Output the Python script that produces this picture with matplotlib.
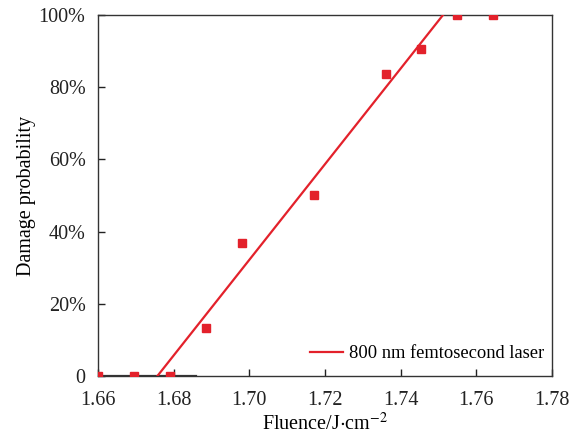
import numpy as np
import matplotlib
matplotlib.use("Agg")
import matplotlib.pyplot as plt
from matplotlib.ticker import FuncFormatter

plt.rcParams["font.family"] = ["Liberation Serif", "DejaVu Serif"]
plt.rcParams["mathtext.fontset"] = "stix"

# measured damage probability vs fluence
fluence = [1.660, 1.6695, 1.679, 1.6885, 1.698, 1.717, 1.736, 1.7455, 1.755, 1.7645]
prob = [0, 0, 0, 13.3, 36.8, 50.1, 83.7, 90.6, 100, 100]

# linear fit: threshold and saturation fluence
fit_x = [1.6757, 1.7512]
fit_y = [0, 100]
zero_x = [1.660, 1.6858]

red = "#e3212b"

fig = plt.figure(figsize=(5.81, 4.36), dpi=100)
ax = fig.add_axes([0.1687, 0.1376, 0.7813, 0.828])

ax.plot(zero_x, [0, 0], color="#333333", lw=1.6, zorder=2)
ax.plot(fit_x, fit_y, color=red, lw=1.6, label="800 nm femtosecond laser", zorder=3)
ax.plot(fluence, prob, "s", color=red, ms=6, zorder=4)

ax.set_xlim(1.66, 1.78)
ax.set_ylim(0, 100)
ax.set_xticks(np.arange(1.66, 1.781, 0.02))
ax.set_yticks([0, 20, 40, 60, 80, 100])
ax.yaxis.set_major_formatter(FuncFormatter(lambda v, p: "0" if v == 0 else f"{v:.0f}%"))
ax.xaxis.set_major_formatter(FuncFormatter(lambda v, p: f"{v:.2f}"))
ax.tick_params(direction="in", length=5, width=1, labelsize=14.5, colors="#222222")
ax.tick_params(axis="x", pad=11)
ax.tick_params(axis="y", pad=9)
for s in ax.spines.values():
    s.set_color("#333333")
    s.set_linewidth(1)

ax.set_xlabel("Fluence/J$\\cdot$cm$^{-2}$", fontsize=14.5, labelpad=2)
ax.set_ylabel("Damage probability", fontsize=14.5, labelpad=2)
ax.legend(loc="lower right", bbox_to_anchor=(1.0, 0.017), frameon=False,
          fontsize=13.3, handlelength=1.8, handletextpad=0.35, borderaxespad=0.0)

fig.savefig("out.png", dpi=100)
